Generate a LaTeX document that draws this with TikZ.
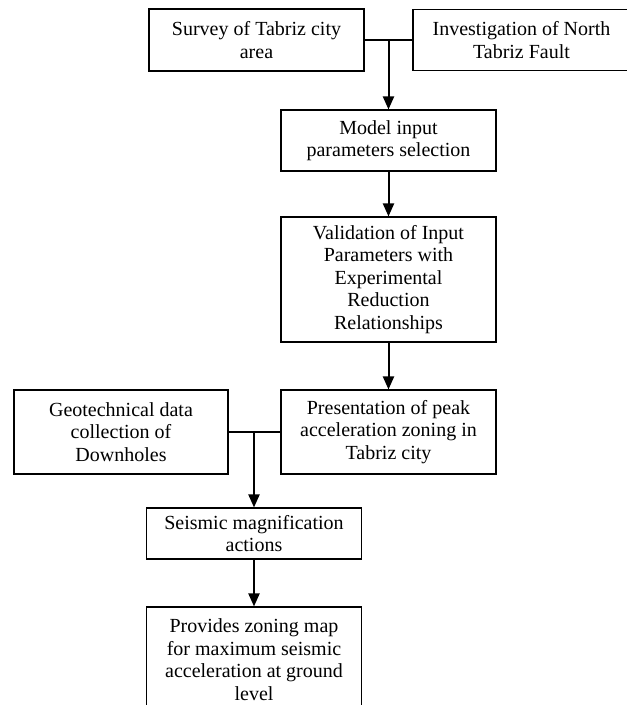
\documentclass[tikz,border=0pt]{standalone}
\usepackage{fontspec}
\setmainfont{Liberation Serif}
\usepackage{tikz}
\usetikzlibrary{positioning, arrows.meta}

\begin{document}
\begin{tikzpicture}[x=1pt, y=-1pt, >={Triangle[length=13pt,width=11pt]},
    box/.style={draw=black, line width=1.1pt, fill=white, align=center, inner sep=0pt,
      font=\fontsize{20}{22.5}\selectfont, minimum width=215pt},
    link/.style={line width=2pt, draw=black}]
  \clip (0,0) rectangle (627,705);
  \fill[white] (0,0) rectangle (627,705);
  \node[box, minimum height=62pt] (survey) at (256.5,40) {Survey of Tabriz city\\area};
  \node[box, minimum height=61pt, minimum width=217pt] (fault) at (521.5,40) {Investigation of North\\Tabriz Fault};
  \node[box, minimum height=61pt] (model) at (388.5,140.5) {Model input\\parameters selection};
  \node[box, minimum height=125pt] (valid) at (388.5,279.5) {Validation of Input\\Parameters with\\Experimental\\Reduction\\Relationships};
  \node[box, minimum height=84pt] (present) at (388.5,432) {Presentation of peak\\acceleration zoning in\\Tabriz city};
  \node[box, minimum height=84pt, minimum width=214pt] (geo) at (121,432) {Geotechnical data\\collection of\\Downholes};
  \node[box, minimum height=51pt] (seismic) at (254,533.5) {Seismic magnification\\actions};
  \node[box, minimum height=105pt] (zoning) at (254,659.5) {Provides zoning map\\for maximum seismic\\acceleration at ground\\level};
  \draw[link] (survey.east) -- (fault.west);
  \draw[link, ->] (survey.east -| model.north) -- (model.north);
  \draw[link, ->] (model) -- (valid);
  \draw[link, ->] (valid) -- (present);
  \draw[link] (geo.east) -- (present.west);
  \draw[link, ->] (present.west -| seismic.north) -- (seismic.north);
  \draw[link, ->] (seismic) -- (zoning);
\end{tikzpicture}
\end{document}
